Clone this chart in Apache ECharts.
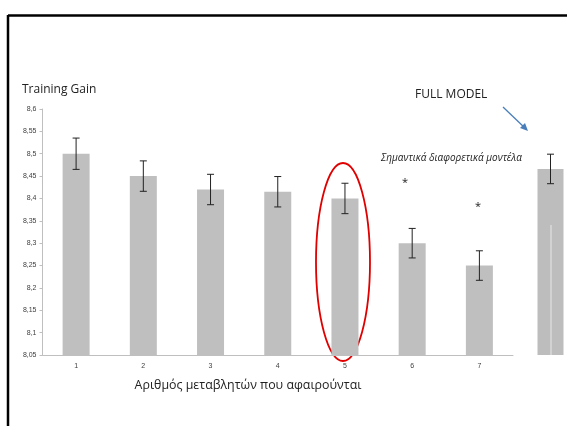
<!DOCTYPE html>
<html><head><meta charset="utf-8">
<script src="https://cdn.jsdelivr.net/npm/echarts@6/dist/echarts.min.js"></script>
<style>html,body{margin:0;padding:0;background:#fff}#c{width:567px;height:426px}</style>
</head><body><div id="c"></div>
<script>
const categories = ['1','2','3','4','5','6','7'];
const gains = [8.5, 8.45, 8.42, 8.415, 8.4, 8.3, 8.25];
const errors = [0.035, 0.034, 0.034, 0.034, 0.034, 0.033, 0.033];
const fullModel = [8.466];
const fullModelError = [0.033];

const chart = echarts.init(document.getElementById('c'));
function errItem(params, api) {
  const x = api.value(0), lo = api.value(1), hi = api.value(2);
  const pLo = api.coord([x, lo]), pHi = api.coord([x, hi]);
  const h = 3.5;
  const st = {stroke:'#222', lineWidth:1};
  return {type:'group', children:[
    {type:'line', shape:{x1:pLo[0],y1:pLo[1],x2:pHi[0],y2:pHi[1]}, style:st},
    {type:'line', shape:{x1:pLo[0]-h,y1:pLo[1],x2:pLo[0]+h,y2:pLo[1]}, style:st},
    {type:'line', shape:{x1:pHi[0]-h,y1:pHi[1],x2:pHi[0]+h,y2:pHi[1]}, style:st}
  ]};
}
const yLabelFmt = v => String(Math.round(v*100)/100).replace('.', ',');
chart.setOption({
  animation:false,
  grid:[
    {left:42.5, right:54, top:109, bottom:71},
    {left:534, width:46, top:109, bottom:71}
  ],
  xAxis:[
    {type:'category', data:categories, gridIndex:0,
     axisLine:{lineStyle:{color:'#bfbfbf'}}, axisTick:{lineStyle:{color:'#bfbfbf'}, length:4},
     axisLabel:{fontSize:7, color:'#404040', margin:8, fontFamily:'Liberation Sans'}},
    {type:'category', data:['F'], gridIndex:1, show:false}
  ],
  yAxis:[
    {type:'value', min:8.05, max:8.6, interval:0.05, gridIndex:0,
     axisLine:{show:true, lineStyle:{color:'#bfbfbf'}}, axisTick:{show:true, length:3, lineStyle:{color:'#bfbfbf'}},
     splitLine:{show:false},
     axisLabel:{fontSize:7, color:'#404040', margin:6, fontFamily:'Liberation Sans', formatter:yLabelFmt}},
    {type:'value', min:8.05, max:8.6, interval:0.05, gridIndex:1, show:false}
  ],
  title:{text:'Training Gain', left:17, top:79, textStyle:{fontSize:12, fontWeight:'normal', color:'#222', fontFamily:'Open Sans'}},
  series:[
    {type:'bar', data:gains, barWidth:27, itemStyle:{color:'#bfbfbf'}, xAxisIndex:0, yAxisIndex:0},
    {type:'custom', renderItem:errItem, xAxisIndex:0, yAxisIndex:0, z:5,
     data:gains.map((g,i)=>[i, g-errors[i], g+errors[i]])},
    {type:'bar', data:fullModel, barWidth:26, itemStyle:{color:'#bdbdbd'}, xAxisIndex:1, yAxisIndex:1},
    {type:'custom', renderItem:errItem, xAxisIndex:1, yAxisIndex:1, z:5,
     data:fullModel.map((g,i)=>[i, g-fullModelError[i], g+fullModelError[i]])}
  ],
  graphic:[
    {type:'line', shape:{x1:8, y1:15.5, x2:567, y2:15.5}, style:{stroke:'#000', lineWidth:2.5}},
    {type:'line', shape:{x1:8, y1:15, x2:8, y2:426}, style:{stroke:'#000', lineWidth:2.5}},
    {type:'text', x:248, y:385, z:10, style:{text:'Αριθμός μεταβλητών που αφαιρούνται', fontSize:12.4, fill:'#222', align:'center', verticalAlign:'middle', fontFamily:'Open Sans'}},
    {type:'text', x:415, y:89, style:{text:'FULL MODEL', fontSize:12, fill:'#222', fontFamily:'Open Sans'}},
    {type:'line', shape:{x1:503, y1:107, x2:526, y2:129}, style:{stroke:'#4a7ebb', lineWidth:1.3}},
    {type:'polygon', shape:{points:[[528,131],[520,128],[525,123]]}, style:{fill:'#4a7ebb'}},
    {type:'text', x:381, y:153, style:{text:'Σημαντικά διαφορετικά μοντέλα', fontSize:10, fontStyle:'italic', fill:'#222', fontFamily:'Open Sans'}},
    {type:'text', x:405, y:183, style:{text:'*', fontSize:11, fill:'#222', align:'center', verticalAlign:'middle', fontFamily:'Open Sans'}},
    {type:'text', x:478, y:207, style:{text:'*', fontSize:11, fill:'#222', align:'center', verticalAlign:'middle', fontFamily:'Open Sans'}},
    {type:'ellipse', shape:{cx:343, cy:262, rx:27, ry:99}, style:{fill:'none', stroke:'#e00000', lineWidth:1.8}},
    {type:'line', z:20, shape:{x1:551, y1:225, x2:551, y2:355}, style:{stroke:'#d2d2d2', lineWidth:2}}
  ]
});
</script></body></html>
